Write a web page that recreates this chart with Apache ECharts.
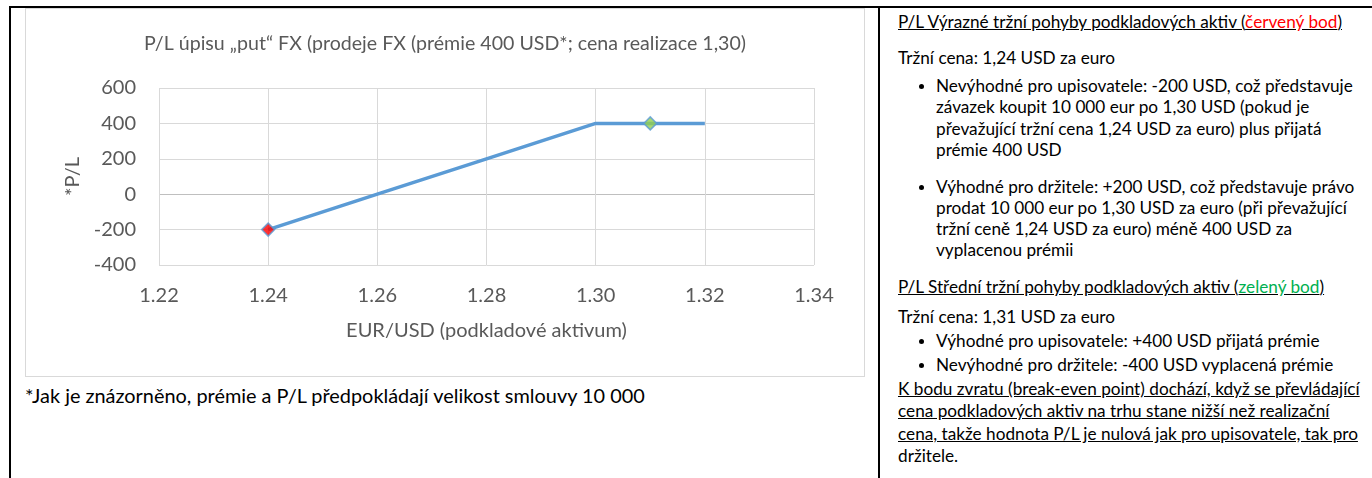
<!DOCTYPE html>
<html>
<head>
<meta charset="utf-8">
<script src="https://cdn.jsdelivr.net/npm/echarts@6/dist/echarts.min.js"></script>
<style>
  body { margin: 0; width: 1372px; height: 478px; background: #fff; overflow: hidden; font-family: Lato, "Open Sans", sans-serif; }
  .bl { position: absolute; background: #000; }
  #chartBox { position: absolute; left: 25px; top: 8px; width: 840px; height: 369px; border: 1px solid #d9d9d9; box-sizing: border-box; }
  #chart { width: 100%; height: 100%; }
  .t { position: absolute; white-space: nowrap; color: #000; font-size: 17.2px; }
  .u { text-decoration: underline; }
  .red { color: #ff0000; }
  .green { color: #00b050; }
  .dot { position: absolute; left: 919px; width: 5px; height: 5px; border-radius: 50%; background: #000; }
</style>
</head>
<body>
<div class="bl" style="left:9px; top:6px; width:1363px; height:2px;"></div>
<div class="bl" style="left:9px; top:6px; width:2px; height:472px;"></div>
<div class="bl" style="left:878px; top:6px; width:2px; height:472px;"></div>

<div id="chartBox"><div id="chart"></div></div>

<div class="t" style="left:25px; top:383px; font-size:19.9px; line-height:24px;">*Jak je znázorněno, prémie a P/L předpokládají velikost smlouvy 10 000</div>

<div class="t u" style="left:898px; top:11px; line-height:22px;">P/L Výrazné tržní pohyby podkladových aktiv (<span class="red">červený bod</span>)</div>
<div class="t" style="left:898px; top:47px; line-height:22px;">Tržní cena: 1,24 USD za euro</div>

<div class="dot" style="top:84px;"></div>
<div class="t" style="left:936px; top:75px; line-height:21.3px;">Nevýhodné pro upisovatele: -200 USD, což představuje<br>závazek koupit 10 000 eur po 1,30 USD (pokud je<br>převažující tržní cena 1,24 USD za euro) plus přijatá<br>prémie 400 USD</div>

<div class="dot" style="top:185px;"></div>
<div class="t" style="left:936px; top:176px; line-height:21.1px;">Výhodné pro držitele: +200 USD, což představuje právo<br>prodat 10 000 eur po 1,30 USD za euro (při převažující<br>tržní ceně 1,24 USD za euro) méně 400 USD za<br>vyplacenou prémii</div>

<div class="t u" style="left:898px; top:276px; line-height:22px;">P/L Střední tržní pohyby podkladových aktiv (<span class="green">zelený bod</span>)</div>
<div class="t" style="left:898px; top:306px; line-height:22px;">Tržní cena: 1,31 USD za euro</div>

<div class="dot" style="top:339px;"></div>
<div class="t" style="left:936px; top:330px; line-height:22px;">Výhodné pro upisovatele: +400 USD přijatá prémie</div>
<div class="dot" style="top:363px;"></div>
<div class="t" style="left:936px; top:354px; line-height:22px;">Nevýhodné pro držitele: -400 USD vyplacená prémie</div>

<div class="t" style="left:898px; top:378px; line-height:22.4px;"><span class="u">K bodu zvratu (break-even point) dochází, když se převládající</span><br><span class="u">cena podkladových aktiv na trhu stane nižší než realizační</span><br><span class="u">cena, takže hodnota P/L je nulová jak pro upisovatele, tak pro</span><br>držitele.</div>

<script>
// payoff of the written put (strike 1.30, premium 400 USD)
const rates = [1.24, 1.26, 1.28, 1.30, 1.31, 1.32];
const pl = [-200, 0, 200, 400, 400, 400];
// highlighted points
const redPoint = [1.24, -200];
const greenPoint = [1.31, 400];
const yTicks = [-400, -200, 0, 200, 400, 600];

const gray = "#595959";
const gridGray = "#d9d9d9";

const chart = echarts.init(document.getElementById("chart"));
chart.setOption({
  animation: false,
  textStyle: { fontFamily: "Lato" },
  title: {
    text: "P/L úpisu „put“ FX (prodeje FX (prémie 400 USD*; cena realizace 1,30)",
    left: "center",
    top: 25,
    padding: 0,
    textStyle: { fontSize: 19.6, fontWeight: "normal", color: gray, fontFamily: "Lato" },
  },
  grid: { left: 133, right: 50, top: 79, bottom: 111 },
  xAxis: {
    type: "value",
    min: 1.22,
    max: 1.34,
    interval: 0.02,
    name: "EUR/USD (podkladové aktivum)",
    nameLocation: "middle",
    nameGap: 56,
    nameTextStyle: { fontSize: 20, color: gray },
    axisLine: { show: false },
    axisTick: { show: false },
    axisLabel: { fontSize: 20, color: gray, margin: 21, formatter: (v) => v.toFixed(2) },
    splitLine: { show: true, lineStyle: { color: gridGray, width: 1 } },
  },
  yAxis: {
    type: "value",
    min: yTicks[0],
    max: yTicks[yTicks.length - 1],
    interval: 200,
    name: "*P/L",
    nameLocation: "middle",
    nameGap: 74,
    nameTextStyle: { fontSize: 20, color: gray },
    axisLine: { show: false },
    axisTick: { show: false },
    axisLabel: { fontSize: 20, color: gray, margin: 23 },
    splitLine: {
      show: true,
      lineStyle: {
        color: yTicks.map((t) => (t === 0 ? "#bfbfbf" : gridGray)),
        width: 1,
      },
    },
  },
  series: [
    {
      type: "line",
      data: rates.map((r, i) => [r, pl[i]]),
      showSymbol: false,
      lineStyle: { color: "#5b9bd5", width: 3.5 },
    },
    {
      type: "scatter",
      symbol: "diamond",
      symbolSize: 13,
      data: [
        { value: redPoint, itemStyle: { color: "#ff0000" } },
        { value: greenPoint, itemStyle: { color: "#92d050" } },
      ],
      itemStyle: { borderColor: "#5b9bd5", borderWidth: 1.5 },
      z: 3,
    },
  ],
});
</script>
</body>
</html>
